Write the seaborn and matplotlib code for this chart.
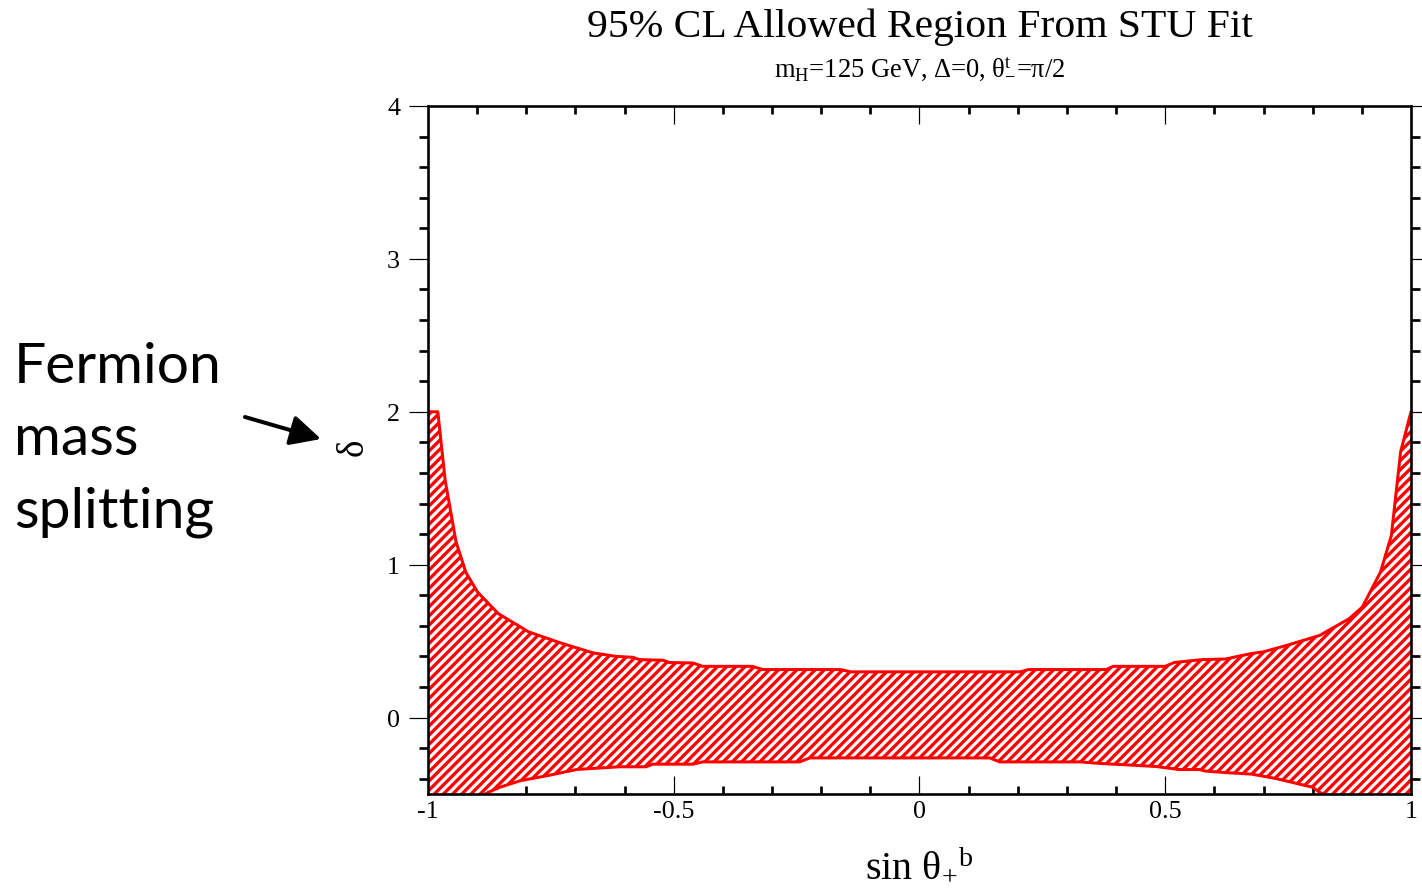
import numpy as np
import pandas as pd
import matplotlib
matplotlib.use("Agg")
import matplotlib.pyplot as plt
import seaborn as sns
from matplotlib.ticker import MultipleLocator

# ---------------- data ----------------
upper_x = [-1.0, -0.98, -0.965, -0.943, -0.923, -0.899, -0.857, -0.795, -0.732,
           -0.664, -0.617, -0.583, -0.57, -0.522, -0.509, -0.461, -0.441, -0.34,
           -0.319, -0.161, -0.14, 0.205, 0.222, 0.38, 0.394, 0.50, 0.518, 0.575,
           0.623, 0.643, 0.676, 0.70, 0.747, 0.814, 0.874, 0.901, 0.938, 0.96,
           0.979, 1.0]
upper_y = [2.0, 2.0, 1.55, 1.15, 0.95, 0.82, 0.68, 0.56, 0.49,
           0.423, 0.40, 0.394, 0.379, 0.375, 0.36, 0.357, 0.335, 0.335,
           0.314, 0.314, 0.299, 0.299, 0.314, 0.314, 0.335, 0.335, 0.36, 0.379,
           0.383, 0.397, 0.419, 0.43, 0.472, 0.537, 0.646, 0.723, 0.952, 1.19,
           1.74, 2.0]

lower_x = [-1.0, -0.95, -0.878, -0.854, -0.812, -0.757, -0.698, -0.651, -0.61,
           -0.556, -0.543, -0.461, -0.441, -0.244, -0.223, 0.143, 0.163, 0.326,
           0.367, 0.481, 0.528, 0.569, 0.582, 0.623, 0.676, 0.727, 0.80, 0.814,
           0.9, 1.0]
lower_y = [-0.75, -0.62, -0.49, -0.456, -0.413, -0.38, -0.34, -0.33, -0.322,
           -0.322, -0.305, -0.305, -0.29, -0.29, -0.264, -0.264, -0.29, -0.29,
           -0.30, -0.32, -0.34, -0.34, -0.35, -0.36, -0.37, -0.40, -0.456, -0.489,
           -0.6, -0.75]

x_ticks = [-1, -0.5, 0, 0.5, 1]
x_tick_labels = ["-1", "-0.5", "0", "0.5", "1"]
y_ticks = [0, 1, 2, 3, 4]
y_tick_labels = ["0", "1", "2", "3", "4"]

title = "95% CL Allowed Region From STU Fit"
subtitle = r"m$_\mathregular{H}$=125 GeV, Δ=0, θ$_\mathregular{-}^\mathregular{t}$=π/2"
x_label = r"sin θ$_{+}{}^{b}$"
y_label = "δ"
side_lines = ["Fermion", "mass", "splitting"]

# ---------------- style ----------------
DPI = 110
PT = 72.0 / DPI  # px -> pt

sns.set_style("white")
plt.rcParams["font.family"] = ["Liberation Serif", "DejaVu Serif"]
plt.rcParams["mathtext.fontset"] = "custom"
plt.rcParams["mathtext.rm"] = "Liberation Serif"
plt.rcParams["mathtext.it"] = "Liberation Serif"
plt.rcParams["mathtext.bf"] = "Liberation Serif:bold"
plt.rcParams["axes.unicode_minus"] = False
plt.rcParams["text.color"] = "black"
plt.rcParams["axes.labelcolor"] = "black"
plt.rcParams["xtick.color"] = "black"
plt.rcParams["ytick.color"] = "black"
plt.rcParams["hatch.color"] = "red"
plt.rcParams["hatch.linewidth"] = 3.3 * PT

fig = plt.figure(figsize=(1422 / DPI, 896 / DPI), dpi=DPI)
ax = fig.add_axes([428 / 1422, 1 - 795 / 896, 983 / 1422, 688 / 896])
ax.set_facecolor("white")

# hatched allowed region
poly_x = upper_x + lower_x[::-1]
poly_y = upper_y + lower_y[::-1]
ax.fill(poly_x, poly_y, facecolor="white", edgecolor="red", hatch="////",
        linewidth=0, zorder=1)

df_up = pd.DataFrame({"x": upper_x, "y": upper_y})
df_lo = pd.DataFrame({"x": lower_x, "y": lower_y})
sns.lineplot(data=df_up, x="x", y="y", ax=ax, color="red", lw=3.0 * PT,
             estimator=None, sort=False, zorder=2)
sns.lineplot(data=df_lo, x="x", y="y", ax=ax, color="red", lw=3.0 * PT,
             estimator=None, sort=False, zorder=2)

ax.set_xlim(-1, 1)
ax.set_ylim(-0.5, 4)

ax.set_xticks(x_ticks, x_tick_labels)
ax.set_yticks(y_ticks, y_tick_labels)
ax.xaxis.set_minor_locator(MultipleLocator(0.1))
ax.yaxis.set_minor_locator(MultipleLocator(0.2))

ax.tick_params(axis="x", which="major", direction="in", length=18 * PT,
               width=1.2 * PT, top=True, bottom=True, labelsize=26 * PT,
               pad=6 * PT)
ax.tick_params(axis="x", which="minor", direction="in", length=8 * PT,
               width=2.7 * PT, top=True, bottom=True)
ax.tick_params(axis="y", which="major", direction="out", length=19 * PT,
               width=1.2 * PT, left=True, right=True, labelsize=26 * PT,
               pad=9 * PT)
ax.tick_params(axis="y", which="minor", direction="out", length=9 * PT,
               width=2.7 * PT, left=True, right=True)

for s in ax.spines.values():
    s.set_visible(True)
    s.set_color("black")
    s.set_linewidth(2.6 * PT)
    s.set_zorder(3)
ax.grid(False)

ax.set_xlabel(x_label, fontsize=40 * PT)
ax.xaxis.set_label_coords(0.5, -0.078)
ax.set_ylabel(y_label, fontsize=37 * PT, rotation=90)
ax.yaxis.set_label_coords(-0.058, 0.506)

fig.text(920 / 1422, 1 - 27 / 896, title, ha="center", va="center",
         fontsize=41.5 * PT)
fig.text(920 / 1422, 1 - 68 / 896, subtitle, ha="center", va="center",
         fontsize=26.5 * PT)

baselines = [383, 455, 527]
for txt, b in zip(side_lines, baselines):
    fig.text(14 / 1422, 1 - b / 896, txt, ha="left", va="baseline",
             fontsize=57 * PT, family=["Lato", "DejaVu Sans"], color="black")

ax.annotate("", xy=(321, 896 - 440), xytext=(245, 896 - 418),
            xycoords="figure pixels", textcoords="figure pixels",
            arrowprops=dict(arrowstyle="-|>,head_length=0.7,head_width=0.35",
                            lw=4 * PT, color="black", mutation_scale=24,
                            shrinkA=0, shrinkB=0))

fig.savefig("out.png", dpi=DPI, facecolor="white")
